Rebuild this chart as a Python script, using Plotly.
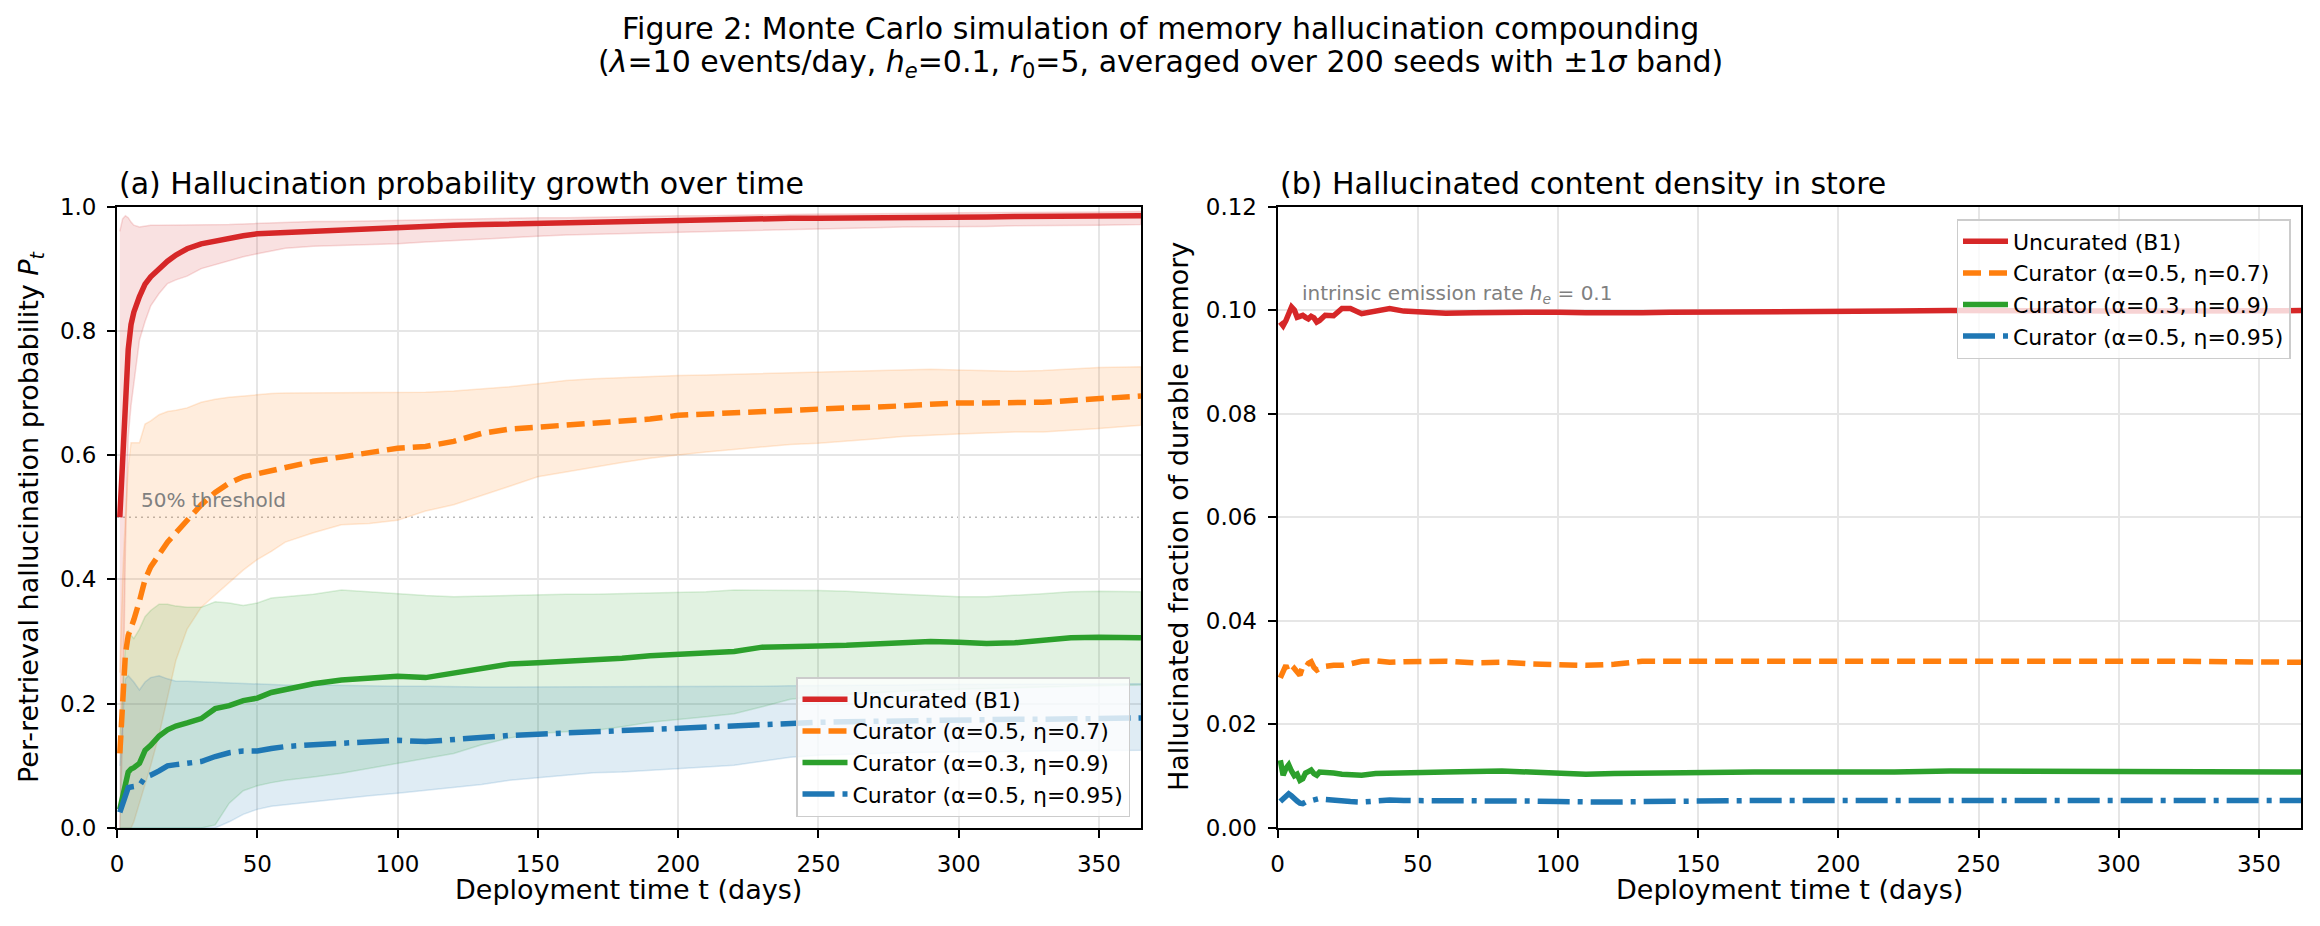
import plotly.graph_objects as go

FONT = "DejaVu Sans"

# ---------------- data: panel (a) ----------------
days_a = [1, 2, 3, 4, 5, 6, 8, 10, 12, 15, 18, 21, 25, 30, 35, 40, 45, 50, 55, 60,
          70, 80, 90, 100, 110, 120, 130, 140, 150, 160, 170, 180, 190, 200, 210, 220,
          230, 240, 250, 260, 270, 280, 290, 300, 310, 320, 330, 340, 350, 365]

uncur_mean = [0.50, 0.60, 0.69, 0.77, 0.81, 0.83, 0.855, 0.875, 0.887, 0.90, 0.912, 0.922, 0.932, 0.94, 0.945, 0.949, 0.953, 0.956, 0.957, 0.959,
              0.962, 0.963, 0.965, 0.968, 0.969, 0.970, 0.971, 0.972, 0.974, 0.975, 0.976, 0.977, 0.978, 0.979, 0.980, 0.980,
              0.980, 0.981, 0.981, 0.981, 0.982, 0.982, 0.983, 0.983, 0.983, 0.984, 0.984, 0.984, 0.985, 0.985]
uncur_hi = [0.96, 0.98, 0.985, 0.982, 0.975, 0.97, 0.967, 0.969, 0.970, 0.970, 0.970, 0.970, 0.970, 0.970, 0.971, 0.971, 0.972, 0.973, 0.974, 0.975,
            0.976, 0.976, 0.977, 0.978, 0.978, 0.979, 0.980, 0.981, 0.982, 0.982, 0.983, 0.983, 0.984, 0.985, 0.985, 0.986,
            0.986, 0.987, 0.988, 0.988, 0.988, 0.989, 0.989, 0.990, 0.990, 0.990, 0.991, 0.991, 0.991, 0.992]
uncur_lo = [0.0, 0.15, 0.45, 0.63, 0.68, 0.72, 0.785, 0.815, 0.84, 0.86, 0.876, 0.882, 0.888, 0.90, 0.907, 0.913, 0.919, 0.924, 0.929, 0.933,
            0.936, 0.937, 0.939, 0.940, 0.943, 0.946, 0.948, 0.950, 0.952, 0.954, 0.956, 0.957, 0.958, 0.959, 0.960, 0.961,
            0.962, 0.963, 0.964, 0.965, 0.966, 0.967, 0.967, 0.968, 0.968, 0.969, 0.969, 0.970, 0.970, 0.971]

c07_mean = [0.12, 0.22, 0.28, 0.31, 0.32, 0.335, 0.365, 0.40, 0.42, 0.44, 0.46, 0.475, 0.495, 0.52, 0.54, 0.555, 0.565, 0.57, 0.575, 0.58,
            0.59, 0.597, 0.605, 0.611, 0.614, 0.622, 0.635, 0.642, 0.645, 0.648, 0.652, 0.653, 0.658, 0.664, 0.666, 0.668,
            0.670, 0.674, 0.676, 0.676, 0.677, 0.679, 0.683, 0.684, 0.684, 0.684, 0.685, 0.688, 0.691, 0.695]
c07_hi = [0.25, 0.40, 0.50, 0.58, 0.62, 0.62, 0.62, 0.65, 0.655, 0.665, 0.67, 0.672, 0.676, 0.685, 0.69, 0.693, 0.695, 0.698, 0.699, 0.70,
          0.70, 0.70, 0.70, 0.70, 0.701, 0.703, 0.706, 0.71, 0.715, 0.72, 0.723, 0.725, 0.727, 0.728, 0.729, 0.73,
          0.731, 0.732, 0.733, 0.734, 0.735, 0.736, 0.738, 0.737, 0.736, 0.735, 0.736, 0.739, 0.741, 0.742]
c07_lo = [0.0, 0.0, 0.0, 0.0, 0.0, 0.01, 0.04, 0.07, 0.10, 0.15, 0.21, 0.27, 0.32, 0.355, 0.375, 0.395, 0.415, 0.432, 0.445, 0.46,
          0.475, 0.488, 0.49, 0.495, 0.51, 0.52, 0.535, 0.55, 0.565, 0.573, 0.58, 0.588, 0.595, 0.60, 0.605, 0.61,
          0.613, 0.617, 0.619, 0.622, 0.626, 0.63, 0.632, 0.634, 0.636, 0.637, 0.637, 0.64, 0.643, 0.648]

c09_mean = [0.03, 0.05, 0.07, 0.09, 0.095, 0.097, 0.104, 0.125, 0.133, 0.148, 0.158, 0.164, 0.169, 0.176, 0.192, 0.197, 0.205, 0.209, 0.218, 0.223,
            0.232, 0.238, 0.241, 0.244, 0.242, 0.249, 0.257, 0.264, 0.266, 0.268, 0.271, 0.273, 0.277, 0.279, 0.280, 0.284,
            0.291, 0.293, 0.293, 0.294, 0.296, 0.298, 0.30, 0.299, 0.297, 0.298, 0.302, 0.306, 0.307, 0.306]
c09_hi = [0.15, 0.23, 0.29, 0.318, 0.31, 0.305, 0.32, 0.34, 0.35, 0.36, 0.36, 0.357, 0.355, 0.355, 0.364, 0.362, 0.358, 0.362, 0.37, 0.372,
          0.376, 0.383, 0.38, 0.376, 0.374, 0.372, 0.373, 0.375, 0.376, 0.376, 0.376, 0.377, 0.378, 0.378, 0.38, 0.383,
          0.383, 0.383, 0.382, 0.381, 0.378, 0.376, 0.374, 0.372, 0.372, 0.374, 0.377, 0.38, 0.381, 0.38]
c09_lo = [0.0, 0.0, 0.0, 0.0, 0.0, 0.0, 0.0, 0.0, 0.0, 0.0, 0.0, 0.0, 0.0, 0.0, 0.005, 0.04, 0.06, 0.068, 0.073, 0.077,
          0.082, 0.088, 0.095, 0.104, 0.112, 0.12, 0.134, 0.145, 0.152, 0.155, 0.157, 0.163, 0.17, 0.175, 0.179, 0.184,
          0.195, 0.207, 0.212, 0.215, 0.218, 0.22, 0.222, 0.224, 0.225, 0.226, 0.227, 0.228, 0.229, 0.23]

c095_mean = [0.025, 0.04, 0.055, 0.065, 0.066, 0.066, 0.068, 0.082, 0.085, 0.092, 0.10, 0.102, 0.104, 0.107, 0.115, 0.121, 0.124, 0.124, 0.128, 0.131,
             0.134, 0.137, 0.14, 0.141, 0.139, 0.143, 0.146, 0.149, 0.151, 0.153, 0.156, 0.157, 0.159, 0.161, 0.163, 0.165,
             0.167, 0.169, 0.17, 0.171, 0.172, 0.173, 0.173, 0.174, 0.174, 0.175, 0.175, 0.176, 0.177, 0.177]
c095_hi = [0.10, 0.18, 0.24, 0.245, 0.24, 0.235, 0.222, 0.235, 0.242, 0.245, 0.24, 0.236, 0.236, 0.235, 0.234, 0.233, 0.232, 0.231, 0.23, 0.23,
           0.23, 0.229, 0.229, 0.228, 0.228, 0.227, 0.227, 0.227, 0.227, 0.227, 0.228, 0.228, 0.228, 0.228, 0.228, 0.228,
           0.228, 0.229, 0.229, 0.23, 0.23, 0.23, 0.231, 0.231, 0.231, 0.232, 0.232, 0.232, 0.232, 0.232]
c095_lo = [0.0, 0.0, 0.0, 0.0, 0.0, 0.0, 0.0, 0.0, 0.0, 0.0, 0.0, 0.0, 0.0, 0.0, 0.0, 0.01, 0.022, 0.03, 0.035, 0.038,
           0.042, 0.047, 0.052, 0.056, 0.06, 0.065, 0.07, 0.077, 0.082, 0.085, 0.089, 0.09, 0.092, 0.095, 0.098, 0.101,
           0.108, 0.114, 0.117, 0.119, 0.12, 0.121, 0.122, 0.122, 0.123, 0.123, 0.124, 0.124, 0.125, 0.125]

# ---------------- data: panel (b) ----------------
days_b = [1, 2, 3, 4, 5, 6, 7, 8, 9, 10, 11, 12, 13, 14, 15, 17, 20, 23, 26, 30, 35, 40, 45, 50,
          60, 70, 80, 90, 100, 110, 120, 130, 140, 150, 160, 170, 180,
          200, 220, 240, 260, 280, 300, 320, 340, 365]
dens_uncur = [0.0977, 0.097, 0.098, 0.0995, 0.1006, 0.1, 0.0986, 0.0988, 0.099, 0.0986, 0.0983, 0.0988, 0.0985, 0.0977, 0.098,
              0.099, 0.0989, 0.1003, 0.1003, 0.0993, 0.0998, 0.1003, 0.0998, 0.0997,
              0.0994, 0.0995, 0.0996, 0.0997, 0.0996, 0.0995, 0.0994, 0.0995, 0.0996, 0.0996, 0.0996, 0.0997, 0.0997,
              0.0998, 0.0998, 0.0999, 0.0998, 0.0998, 0.0998, 0.0998, 0.0999, 0.0999]
dens_c07 = [0.029, 0.0305, 0.0314, 0.030, 0.0302, 0.0308, 0.0302, 0.0295, 0.0312, 0.031, 0.0318, 0.0321, 0.031, 0.0305, 0.0308,
            0.0312, 0.0314, 0.0314, 0.0317, 0.0322, 0.0323, 0.032, 0.0321, 0.0322,
            0.0322, 0.0319, 0.032, 0.0317, 0.0316, 0.0314, 0.0316, 0.0322, 0.0322, 0.0322, 0.0323, 0.0322, 0.0322,
            0.0323, 0.0322, 0.0324, 0.0322, 0.0322, 0.0322, 0.0322, 0.0321, 0.032]
dens_c09 = [0.0131, 0.0102, 0.0115, 0.0122, 0.011, 0.0101, 0.0104, 0.0092, 0.0095, 0.0106, 0.0109, 0.0112, 0.0105, 0.0102, 0.0108,
            0.0108, 0.0106, 0.0104, 0.0103, 0.0102, 0.0105, 0.0106, 0.0106, 0.0107,
            0.0108, 0.0109, 0.011, 0.0108, 0.0106, 0.0104, 0.0105, 0.0106, 0.0107, 0.0107, 0.0108, 0.0108, 0.0108,
            0.0107, 0.0108, 0.011, 0.011, 0.0109, 0.0108, 0.0108, 0.0108, 0.0108]
dens_c095 = [0.0051, 0.0055, 0.006, 0.0066, 0.0062, 0.0055, 0.0052, 0.0048, 0.0047, 0.005, 0.0051, 0.0052, 0.0054, 0.0056, 0.0057,
             0.0055, 0.0053, 0.0052, 0.0051, 0.005, 0.0052, 0.0054, 0.0053, 0.0053,
             0.0053, 0.0054, 0.0053, 0.0052, 0.0051, 0.005, 0.005, 0.0051, 0.0052, 0.0052, 0.0052, 0.0053, 0.0053,
             0.0053, 0.0054, 0.0055, 0.0055, 0.0054, 0.0054, 0.0053, 0.0053, 0.0053]

labels = ["Uncurated (B1)", "Curator (α=0.5, η=0.7)", "Curator (α=0.3, η=0.9)", "Curator (α=0.5, η=0.95)"]
colors = [(214, 39, 40), (255, 127, 14), (44, 160, 44), (31, 119, 180)]
dashes = ["solid", "18px,8px", "solid", "32px,8px,5px,8px"]

threshold = 0.5
he = 0.1

LW = 5.5
fig = go.Figure()

means_a = [uncur_mean, c07_mean, c09_mean, c095_mean]
his_a = [uncur_hi, c07_hi, c09_hi, c095_hi]
los_a = [uncur_lo, c07_lo, c09_lo, c095_lo]


def rgba(c, a):
    return "rgba(%d,%d,%d,%s)" % (c[0], c[1], c[2], a)


# ±1σ bands (panel a)
for hi, lo, c in zip(his_a, los_a, colors):
    fig.add_trace(go.Scatter(
        x=days_a + days_a[::-1], y=hi + lo[::-1], fill="toself",
        fillcolor=rgba(c, 0.14), line=dict(color=rgba(c, 0.16), width=1.5),
        mode="lines", showlegend=False, hoverinfo="skip", xaxis="x", yaxis="y"))

# mean lines panel (a)
for m, c, d, lab in zip(means_a, colors, dashes, labels):
    fig.add_trace(go.Scatter(
        x=days_a, y=m, mode="lines", name=lab,
        line=dict(color=rgba(c, 1), width=LW, dash=d),
        xaxis="x", yaxis="y", legend="legend"))

# panel (b)
for m, c, d, lab in zip([dens_uncur, dens_c07, dens_c09, dens_c095], colors, dashes, labels):
    fig.add_trace(go.Scatter(
        x=days_b, y=m, mode="lines", name=lab,
        line=dict(color=rgba(c, 1), width=LW, dash=d),
        xaxis="x2", yaxis="y2", legend="legend2"))

W, H = 2320, 926


def px_x(p):
    return p / W


def px_y(p):
    return 1 - p / H


ax_common = dict(
    showline=True, linecolor="black", linewidth=1.8, mirror=True,
    ticks="outside", ticklen=8, tickwidth=1.8, tickcolor="black",
    showgrid=True, gridcolor="#e6e6e6", gridwidth=1.6, zeroline=False,
    tickfont=dict(family=FONT, size=23, color="black"),
    ticklabelstandoff=6, automargin=False,
)

leg_common = dict(bgcolor="rgba(255,255,255,0.8)", bordercolor="#cccccc", borderwidth=1.5,
                  itemwidth=45, font=dict(family=FONT, size=22, color="black"))

y_dom = [px_y(828), px_y(206.5)]
fig.update_layout(
    template="none",
    width=W, height=H, autosize=False,
    margin=dict(l=0, r=0, t=0, b=0, pad=0),
    paper_bgcolor="white", plot_bgcolor="white",
    font=dict(family=FONT, color="black"),
    xaxis=dict(domain=[px_x(117), px_x(1141)], range=[0, 365], tickvals=[0, 50, 100, 150, 200, 250, 300, 350],
               anchor="y", **ax_common),
    yaxis=dict(domain=y_dom, range=[0, 1], tickvals=[0, 0.2, 0.4, 0.6, 0.8, 1.0], tickformat=".1f",
               anchor="x", **ax_common),
    xaxis2=dict(domain=[px_x(1277.5), px_x(2301)], range=[0, 365], tickvals=[0, 50, 100, 150, 200, 250, 300, 350],
                anchor="y2", **ax_common),
    yaxis2=dict(domain=y_dom, range=[0, 0.12], tickvals=[0, 0.02, 0.04, 0.06, 0.08, 0.10, 0.12], tickformat=".2f",
                anchor="x2", **ax_common),
    legend=dict(x=px_x(1130), xanchor="right", y=px_y(817), yanchor="bottom", **leg_common),
    legend2=dict(x=px_x(2290.5), xanchor="right", y=px_y(219), yanchor="top", **leg_common),
    shapes=[
        dict(type="line", xref="x", yref="y", x0=0, x1=365, y0=threshold, y1=threshold,
             line=dict(color="rgba(128,128,128,0.55)", width=1.5, dash="2px,4px"), layer="below"),
        dict(type="line", xref="x2", yref="y2", x0=0, x1=365, y0=he, y1=he,
             line=dict(color="rgba(128,128,128,0.55)", width=1.5, dash="2px,4px"), layer="below"),
    ],
)


def ann(text, x, y, size, xanchor="center", yanchor="middle", color="black", textangle=0,
        xref="paper", yref="paper"):
    fig.add_annotation(text=text, x=x, y=y, xref=xref, yref=yref, showarrow=False,
                       xanchor=xanchor, yanchor=yanchor, textangle=textangle,
                       font=dict(family=FONT, size=size, color=color))


# suptitle
ann("Figure 2: Monte Carlo simulation of memory hallucination compounding", px_x(1160), px_y(28.5), 30)
ann("(<i>λ</i>=10 events/day, <i>h</i><sub><i>e</i></sub>=0.1, <i>r</i><sub>0</sub>=5, "
    "averaged over 200 seeds with ±1<i>σ</i> band)", px_x(1160), px_y(63), 30)
# subplot titles
ann("(a) Hallucination probability growth over time", px_x(117), px_y(183), 30, xanchor="left")
ann("(b) Hallucinated content density in store", px_x(1277.5), px_y(183), 30, xanchor="left")
# axis titles
ann("Deployment time t (days)", px_x(629), px_y(889), 27)
ann("Deployment time t (days)", px_x(1789), px_y(889), 27)
ann("Per-retrieval hallucination probability <i>P</i><sub><i>t</i></sub>", px_x(30), px_y(517), 27, textangle=-90)
ann("Hallucinated fraction of durable memory", px_x(1178), px_y(517), 27, textangle=-90)
# in-plot notes
ann("50% threshold", 8, 0.5277, 20, xanchor="left", color="gray", xref="x", yref="y")
ann("intrinsic emission rate <i>h</i><sub><i>e</i></sub> = 0.1", 8, 0.1032, 20, xanchor="left", color="gray",
    xref="x2", yref="y2")

fig.write_html("out.html")
